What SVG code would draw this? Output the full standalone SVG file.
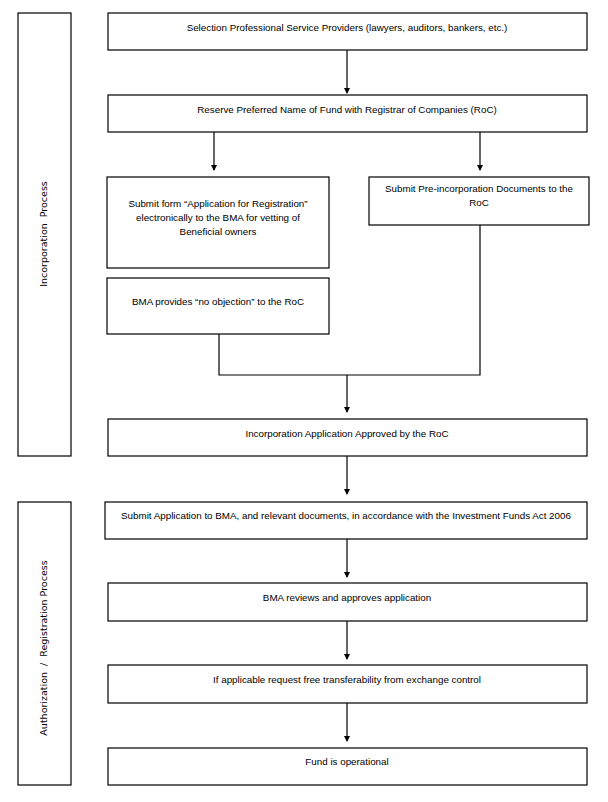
<svg xmlns="http://www.w3.org/2000/svg" width="608" height="802" viewBox="0 0 608 802">
<style>
rect{fill:#fff;stroke:#000;stroke-width:1.2}
.t{font-family:"Liberation Sans",Arial,sans-serif;font-size:9.8px;fill:#000;text-anchor:middle}
.v{font-family:"DejaVu Sans",Verdana,sans-serif;font-size:9.5px;fill:#000;text-anchor:middle;white-space:pre}
.c{fill:none;stroke:#000;stroke-width:1.2}
</style>
<defs>
<marker id="ah" markerWidth="6" markerHeight="6" refX="5" refY="3" orient="auto" markerUnits="userSpaceOnUse">
<path d="M0,0 L6,3 L0,6 Z" fill="#000"/>
</marker>
</defs>
<rect width="608" height="802" style="fill:#fff;stroke:none"/>
<g id="lane-incorporation">
<rect x="18" y="13" width="53" height="443"/>
<text class="v" xml:space="preserve" transform="translate(47,234) rotate(-90)">Incorporation  Process</text>
</g>
<g id="lane-authorization">
<rect x="18" y="502" width="53" height="283"/>
<text class="v" xml:space="preserve" transform="translate(47,648) rotate(-90)">Authorization  /  Registration Process</text>
</g>
<g id="connectors">
<path class="c" d="M347,50 V93" marker-end="url(#ah)"/>
<path class="c" d="M214,132 V170" marker-end="url(#ah)"/>
<path class="c" d="M480,132 V170" marker-end="url(#ah)"/>
<path class="c" d="M219,334 V375 H480 V225"/>
<path class="c" d="M347,375 V412" marker-end="url(#ah)"/>
<path class="c" d="M347,456 V494" marker-end="url(#ah)"/>
<path class="c" d="M347,539 V577" marker-end="url(#ah)"/>
<path class="c" d="M347,621 V659" marker-end="url(#ah)"/>
<path class="c" d="M347,703 V741" marker-end="url(#ah)"/>
</g>
<g id="n1">
<rect x="108" y="13" width="479" height="37"/>
<text class="t" x="347" y="31">Selection Professional Service Providers (lawyers, auditors, bankers, etc.)</text>
</g>
<g id="n2">
<rect x="108" y="95" width="479" height="37"/>
<text class="t" x="347" y="113">Reserve Preferred Name of Fund with Registrar of Companies (RoC)</text>
</g>
<g id="n3">
<rect x="107" y="177" width="222" height="91"/>
<text class="t" x="218" y="207">Submit form “Application for Registration”</text>
<text class="t" x="218" y="221">electronically to the BMA for vetting of</text>
<text class="t" x="218" y="235">Beneficial owners</text>
</g>
<g id="n4">
<rect x="369" y="177" width="220" height="48"/>
<text class="t" x="479" y="192">Submit Pre-incorporation Documents to the</text>
<text class="t" x="479" y="206">RoC</text>
</g>
<g id="n5">
<rect x="107" y="278" width="222" height="56"/>
<text class="t" x="218" y="305">BMA provides “no objection” to the RoC</text>
</g>
<g id="n6">
<rect x="108" y="419" width="479" height="37"/>
<text class="t" x="347" y="437">Incorporation Application Approved by the RoC</text>
</g>
<g id="n7">
<rect x="105" y="502" width="482" height="37"/>
<text class="t" x="346" y="519">Submit Application to BMA, and relevant documents, in accordance with the Investment Funds Act 2006</text>
</g>
<g id="n8">
<rect x="108" y="583" width="479" height="38"/>
<text class="t" x="347" y="601">BMA reviews and approves application</text>
</g>
<g id="n9">
<rect x="108" y="665" width="479" height="38"/>
<text class="t" x="347" y="683">If applicable request free transferability from exchange control</text>
</g>
<g id="n10">
<rect x="108" y="748" width="479" height="37"/>
<text class="t" x="347" y="765">Fund is operational</text>
</g>
</svg>
